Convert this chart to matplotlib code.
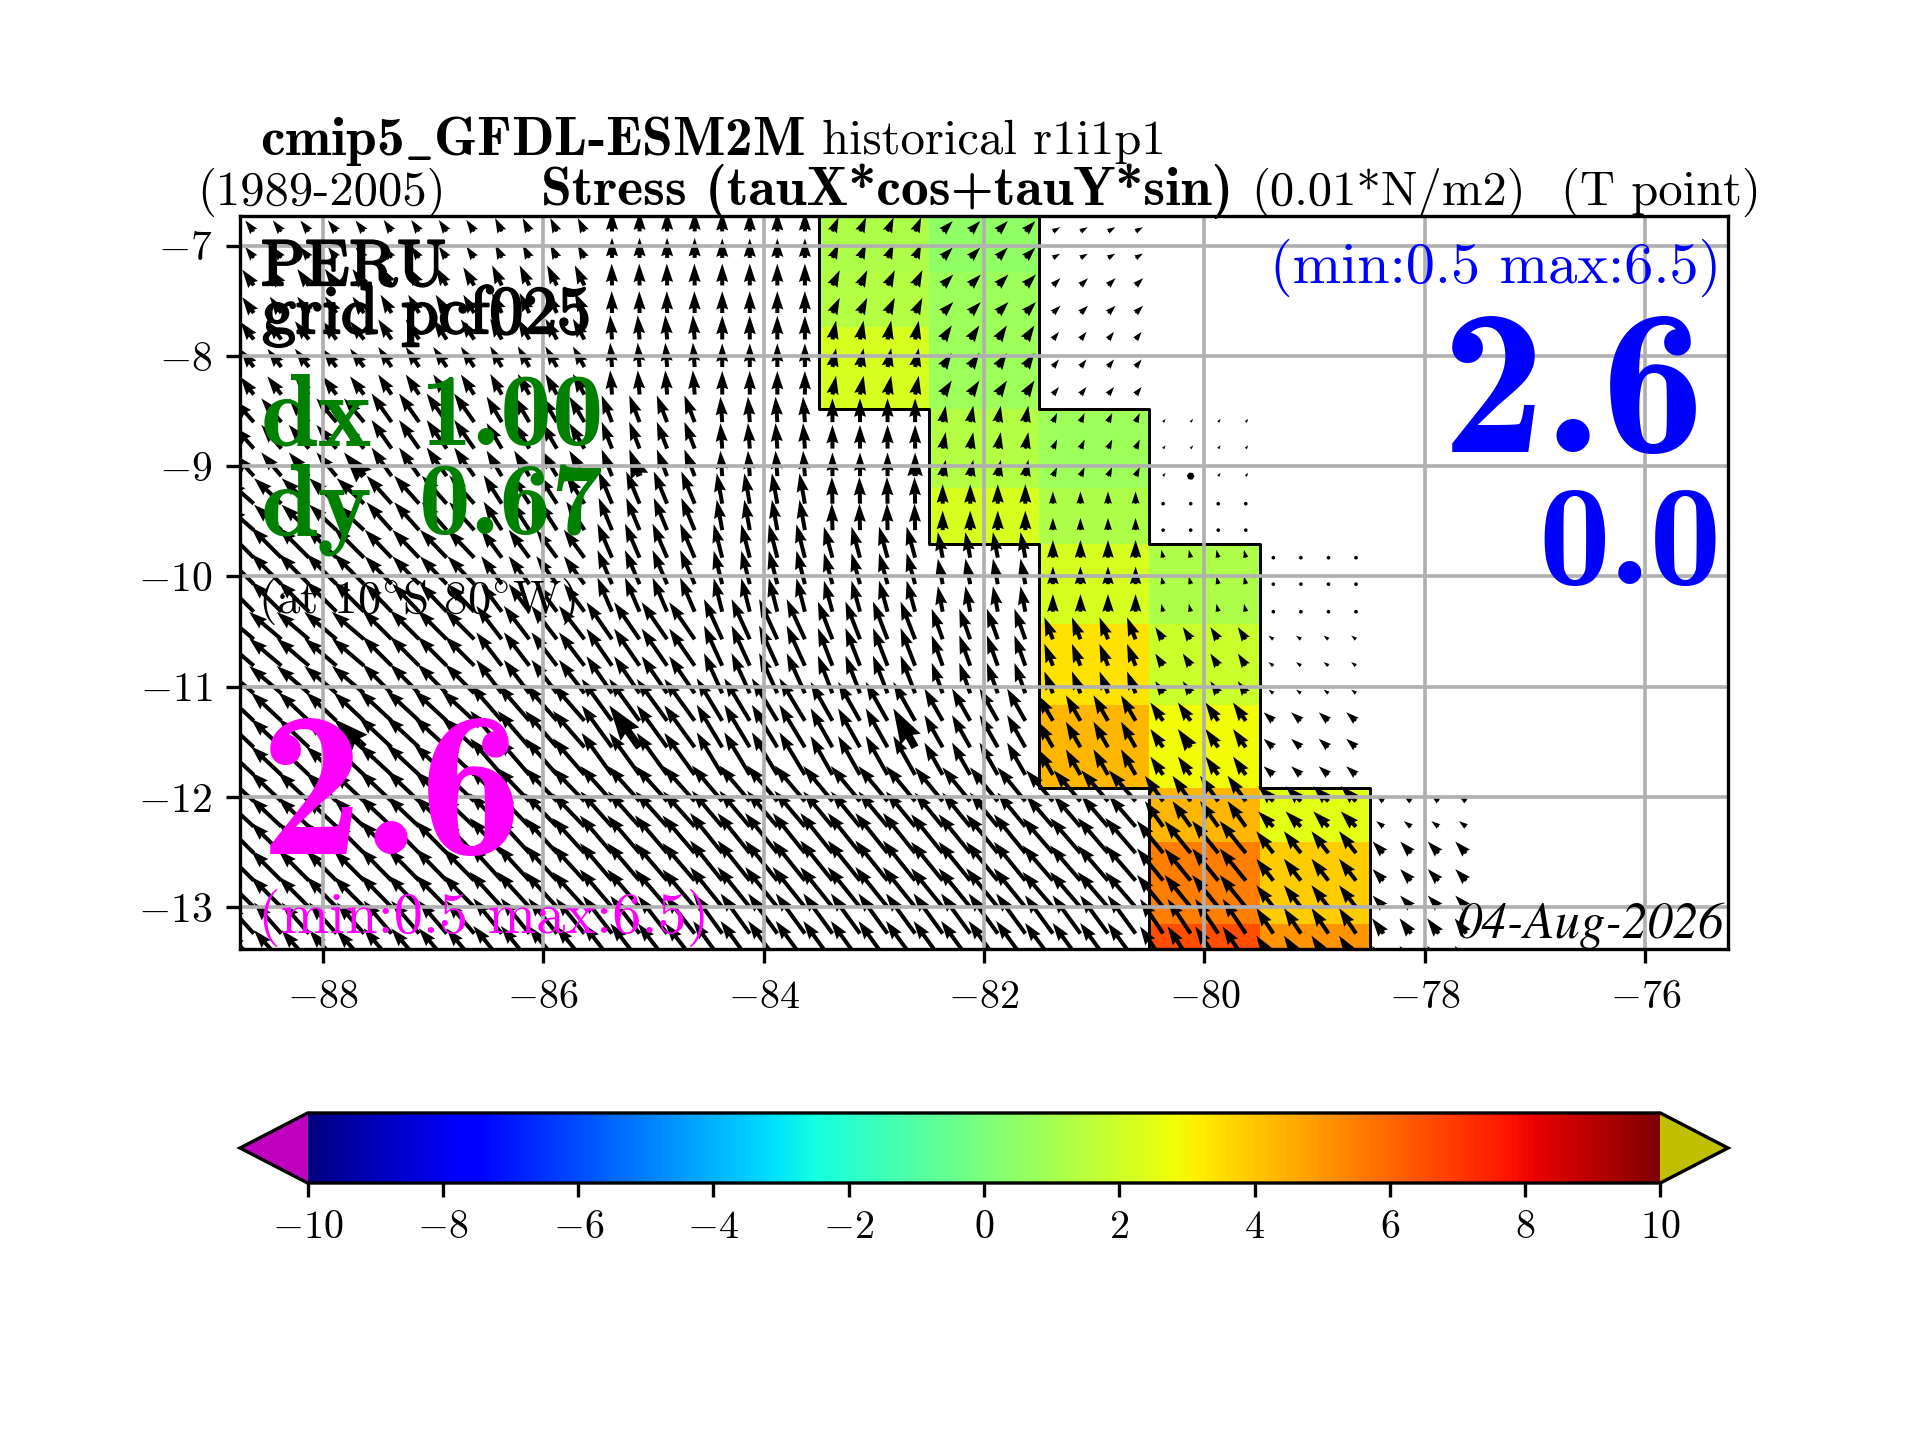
import numpy as np
import matplotlib
matplotlib.use("Agg")
import matplotlib.pyplot as plt
import matplotlib.patheffects as pe
from matplotlib.cm import ScalarMappable
from matplotlib.colors import Normalize

plt.rcParams['font.family'] = ['cmr10', 'DejaVu Serif']
plt.rcParams['mathtext.fontset'] = 'cm'
plt.rcParams['axes.formatter.use_mathtext'] = True
plt.rcParams['axes.unicode_minus'] = True

N = None
# block edges of the model grid
lon_edges = [-88.75, -88.5, -87.5, -86.5, -85.5, -84.5, -83.5, -82.5, -81.5, -80.5, -79.5, -78.5, -77.5]
lat_edges = [-6.73, -7.235, -7.733, -8.48, -9.2, -9.71, -10.43, -11.17, -11.92, -12.41, -13.15, -13.38]

# alongshore stress (colored cells), one row per latitude band, one column per longitude block
stress = [
    [N, N, N, N, N, N, 1.2, 0.5, N, N, N, N],
    [N, N, N, N, N, N, 1.4, 0.85, N, N, N, N],
    [N, N, N, N, N, N, 2.2, 0.85, N, N, N, N],
    [N, N, N, N, N, N, N, 1.4, 0.8, N, N, N],
    [N, N, N, N, N, N, N, 2.2, 1.2, N, N, N],
    [N, N, N, N, N, N, N, N, 2.2, 1.2, N, N],
    [N, N, N, N, N, N, N, N, 3.4, 1.9, N, N],
    [N, N, N, N, N, N, N, N, 4.3, 2.85, N, N],
    [N, N, N, N, N, N, N, N, N, 4.3, 2.55, N],
    [N, N, N, N, N, N, N, N, N, 5.5, 3.9, N],
    [N, N, N, N, N, N, N, N, N, 6.5, 5.0, N],
]

# eastward / northward stress per block (0.01 N/m2)
tau_u = [
    [-1.4, -1.4, -1.3, -1.1, 0.0, 0.0, 1.0, 1.65, 1.2, N, N, N],
    [-1.9, -1.9, -1.8, -1.6, -0.05, 0.0, 1.2, 1.75, 1.25, N, N, N],
    [-2.2, -2.3, -2.2, -1.9, -0.3, 0.0, 0.6, 1.5, 1.0, N, N, N],
    [-3.2, -3.3, -3.3, -2.5, -1.7, -0.3, 0.0, 0.5, 0.7, 0.4, N, N],
    [-4.3, -4.5, -4.1, -3.0, -2.2, -0.9, -0.1, 0.0, 0.0, 0.1, N, N],
    [-4.8, -5.0, -4.4, -3.4, -2.4, -1.4, -1.4, -0.8, 0.0, -0.3, -0.3, N],
    [-5.2, -5.3, -4.8, -4.2, -4.2, -3.0, -2.4, -1.8, -1.4, -1.3, -0.8, N],
    [-4.8, -5.0, -5.4, -5.2, -5.0, -4.2, -3.6, -3.0, -2.4, -2.1, -1.6, N],
    [-5.0, -5.1, -5.3, -5.3, -5.2, -5.0, -4.8, -4.6, -4.4, -3.0, -2.5, -1.2],
    [-4.8, -5.0, -5.2, -5.3, -5.3, -5.3, -5.3, -5.2, -5.0, -4.3, -2.8, -1.8],
    [-4.4, -4.5, -4.6, -4.7, -4.8, -4.8, -4.8, -4.8, -4.6, -3.8, -2.8, -1.9],
]
tau_v = [
    [1.8, 1.8, 1.9, 2.2, 3.3, 3.2, 2.3, 1.7, 0.7, N, N, N],
    [2.6, 2.7, 3.0, 3.3, 3.6, 3.6, 2.5, 1.8, 1.2, N, N, N],
    [2.9, 3.0, 3.3, 3.4, 4.0, 3.9, 3.1, 2.3, 1.25, N, N, N],
    [3.6, 3.9, 4.7, 4.2, 4.4, 4.2, 3.9, 2.7, 1.5, 0.55, N, N],
    [3.8, 4.2, 4.6, 4.7, 5.3, 5.0, 4.4, 3.2, 2.0, 0.6, N, N],
    [4.8, 5.0, 4.6, 4.6, 5.6, 5.5, 5.1, 4.2, 2.9, 1.3, 0.2, N],
    [4.4, 4.5, 4.8, 5.5, 6.1, 6.6, 6.2, 5.0, 3.6, 2.0, 0.6, N],
    [4.5, 4.7, 5.0, 6.0, 6.9, 7.0, 6.4, 5.3, 4.2, 3.0, 1.4, N],
    [4.6, 4.8, 5.0, 5.5, 5.8, 5.9, 5.8, 5.6, 5.1, 4.2, 2.5, 0.9],
    [4.8, 5.0, 5.3, 5.8, 6.2, 6.6, 6.6, 6.4, 5.8, 5.3, 3.6, 1.9],
    [4.9, 5.1, 5.4, 5.8, 6.2, 6.6, 6.6, 6.6, 6.3, 5.7, 4.2, 2.5],
]

# arrow rows: latitude of each row and the band it belongs to
arrow_lat = [-6.87, -7.11, -7.36, -7.61, -7.85, -8.10, -8.35, -8.60, -8.84, -9.09,
             -9.34, -9.58, -9.83, -10.07, -10.32, -10.57, -10.81, -11.06, -11.31, -11.55,
             -11.80, -12.04, -12.27, -12.51, -12.76, -13.00, -13.24, -13.49]
arrow_band = [0, 0, 1, 1, 2, 2, 2, 3, 3, 3, 4, 4, 5, 5, 5, 6, 6, 6, 7, 7, 7, 8, 8, 9, 9, 9, 10, 10]
# arrow columns: longitude of each column and the block it belongs to
arrow_lon = [-88.625, -88.375, -88.125, -87.875, -87.625, -87.375, -87.125, -86.875, -86.625,
             -86.375, -86.125, -85.875, -85.625, -85.375, -85.125, -84.875, -84.625, -84.375,
             -84.125, -83.875, -83.625, -83.375, -83.125, -82.875, -82.625, -82.375, -82.125,
             -81.875, -81.625, -81.375, -81.125, -80.875, -80.625, -80.375, -80.125, -79.875,
             -79.625, -79.375, -79.125, -78.875, -78.625, -78.375, -78.125, -77.875, -77.625]
arrow_block = [0] + [b for b in range(1, 12) for _ in range(4)]
# rows and columns of the heavier arrows
heavy_rows = [9, 19]
heavy_cols = [4, 14, 24, 34]

# outline of the coastal band
edge_left_lon = [-83.5, -83.5, -82.5, -82.5, -81.5, -81.5, -80.5, -80.5]
edge_right_lon = [-81.5, -81.5, -80.5, -80.5, -79.5, -79.5, -78.5, -78.5]
edge_lat = [-6.73, -8.48, -8.48, -9.71, -9.71, -11.92, -11.92, -13.38]

x_ticks = [-88, -86, -84, -82, -80, -78, -76]
y_ticks = [-7, -8, -9, -10, -11, -12, -13]
cbar_ticks = [-10, -8, -6, -4, -2, 0, 2, 4, 6, 8, 10]

W, H = 1920, 1440
fig = plt.figure(figsize=(8, 6), dpi=240)
ax = fig.add_axes([0.125, 1 - 949 / H, 0.775, 733 / H])
ax.set_xlim(-88.75, -75.25)
ax.set_ylim(-13.38, -6.73)

cmap = plt.get_cmap('jet').copy()
cmap.set_under((0.75, 0, 0.75))
cmap.set_over((0.75, 0.75, 0))
norm = Normalize(-10, 10)

values = np.ma.masked_invalid(np.array(stress, dtype=float))
ax.pcolormesh(lon_edges, lat_edges, values, cmap=cmap, norm=norm, zorder=1)
ax.plot(edge_left_lon, edge_lat, color='k', lw=0.9, zorder=1.5)
ax.plot(edge_right_lon, edge_lat, color='k', lw=0.9, zorder=1.5)

xs, ys, us, vs = [], [], [], []
hx, hy, hu, hv = [], [], [], []
for i, la in enumerate(arrow_lat):
    for j, lo in enumerate(arrow_lon):
        u = tau_u[arrow_band[i]][arrow_block[j]]
        v = tau_v[arrow_band[i]][arrow_block[j]]
        if u is None:
            continue
        if i in heavy_rows and j in heavy_cols:
            hx.append(lo); hy.append(la); hu.append(u); hv.append(v)
        else:
            xs.append(lo); ys.append(la); us.append(u); vs.append(v)
ax.quiver(xs, ys, us, vs, pivot='tail', angles='uv', scale=245, width=0.0027,
          headwidth=3, headlength=4.6, headaxislength=4.2, color='k', zorder=2)
ax.quiver(hx, hy, hu, hv, pivot='tail', angles='uv', scale=245, width=0.0052,
          headwidth=3, headlength=4.6, headaxislength=4.2, color='k', zorder=2)

ax.set_axisbelow(False)
ax.grid(True, color='#b0b0b0', lw=1.1)
ax.set_xticks(x_ticks)
ax.set_xticklabels([f'${v}$' for v in x_ticks], fontsize=12)
ax.set_yticks(y_ticks)
ax.set_yticklabels([f'${v}$' for v in y_ticks], fontsize=12.5)
ax.tick_params(length=4.3, width=1, pad=4)
ax.tick_params(axis='x', pad=5)
for s in ax.spines.values():
    s.set_linewidth(1)
    s.set_zorder(3)


def put(x, y, s, size, color='k', ha='left', bold=False, family=None, heavy=0, style='normal'):
    fam = family or (['cmb10', 'cmr10', 'DejaVu Serif'] if bold else ['cmr10', 'DejaVu Serif'])
    t = fig.text(x / W, 1 - y / H, s, fontsize=size, color=color, ha=ha, va='baseline',
                 family=fam, style=style, zorder=5)
    if heavy:
        t.set_path_effects([pe.withStroke(linewidth=heavy, foreground=color)])
    return t


put(260, 154.5, r'cmip5$\_$GFDL-ESM2M', 16.6, bold=True)
put(822, 154.5, 'historical r1i1p1', 14.6)
put(197, 205, '(1989-2005)', 14.6)
put(541, 205, 'Stress (tauX*cos+tauY*sin)', 16.7, bold=True)
put(1251, 205, '(0.01*N/m2)', 14.6)
put(1561, 205, '(T point)', 14.6)
put(261, 285, 'PERU', 19.5, heavy=0.7)
put(262, 333, 'grid pcf025', 20.3, heavy=0.7)
put(261, 445, 'dx', 31, color='#008000', bold=True)
put(421, 445, '1.00', 31, color='#008000', bold=True)
put(261, 535, 'dy', 31, color='#008000', bold=True)
put(419, 535, '0.67', 31, color='#008000', bold=True)
put(258, 613, r'(at 10$^{\circ}$S 80$^{\circ}$W)', 14.1)
put(260, 854, '2.6', 62, color='#ff00ff', bold=True)
put(258, 933, '(min:0.5 max:6.5)', 17.5, color='#ff00ff')
put(1721, 283, '(min:0.5 max:6.5)', 17.5, color='#0000ff', ha='right')
put(1706, 452, '2.6', 62, color='#0000ff', ha='right', bold=True)
put(1722, 584, '0.0', 43, color='#0000ff', ha='right', bold=True)
put(1724, 938, '04-Aug-2026', 15.2, ha='right', family=['STIXGeneral'], style='italic')

cax = fig.add_axes([0.125, 257 / H, 0.775, 70 / H])
cb = fig.colorbar(ScalarMappable(norm=norm, cmap=cmap), cax=cax, orientation='horizontal', extend='both')
cb.set_ticks(cbar_ticks)
cb.set_ticklabels([f'${v}$' for v in cbar_ticks])
cb.ax.tick_params(length=4.3, width=1, labelsize=12, pad=4)
cb.outline.set_linewidth(1)

fig.savefig('out.png', dpi=240, facecolor='white')
